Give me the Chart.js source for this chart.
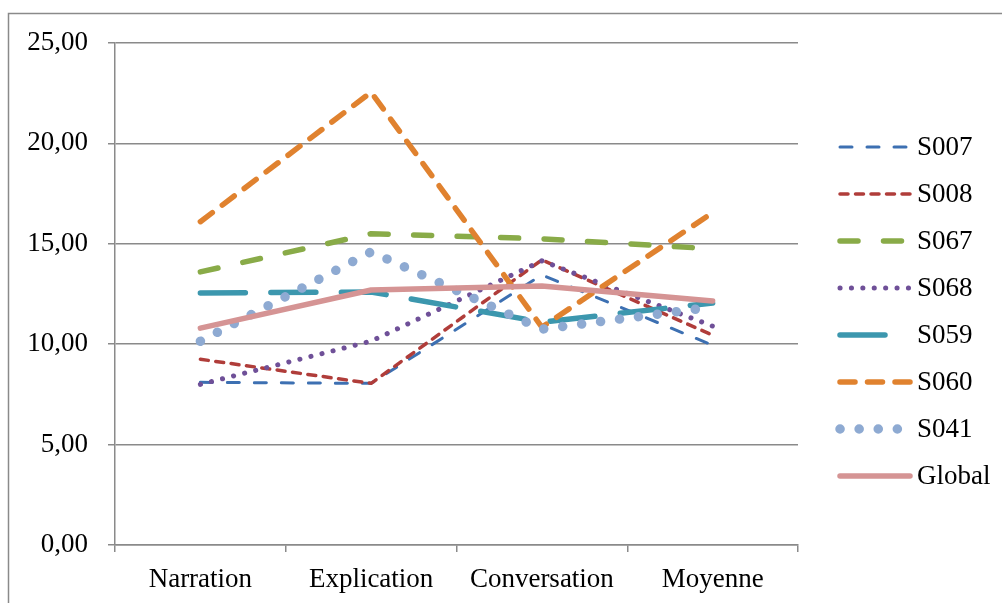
<!DOCTYPE html>
<html>
<head>
<meta charset="utf-8">
<script src="https://cdn.jsdelivr.net/npm/chart.js@4"></script>
<style>
  html, body { margin: 0; padding: 0; background: #fff; }
  #wrap { width: 1002px; height: 603px; }
</style>
</head>
<body>
<div id="wrap"><canvas id="lineChart" width="1002" height="603"></canvas></div>
<script>
// catégories et valeurs
const categories = ['Narration', 'Explication', 'Conversation', 'Moyenne'];
const seriesNames = ['S007', 'S008', 'S067', 'S068', 'S059', 'S060', 'S041', 'Global'];
const s007 = [8.1, 8.05, 13.45, 9.95];
const s008 = [9.25, 8.05, 14.2, 10.45];
const s067 = [13.6, 15.5, 15.25, 14.75];
const s068 = [8.0, 10.15, 14.15, 10.9];
const s059 = [12.55, 12.6, 11.1, 12.05];
const s060 = [16.1, 22.55, 10.85, 16.55];
const s041 = [10.15, 14.6, 10.75, 11.85];
const global = [10.8, 12.7, 12.9, 12.15];
const yTicks = [0, 5, 10, 15, 20, 25];

const FONT = 'Liberation Serif';
const GRID = '#8a8a8a';

// style de chaque série (couleur, épaisseur, tirets)
function serie(label, data, color, width, dash, order) {
    return {
        label: label,
        data: data,
        borderColor: color,
        backgroundColor: color,
        borderWidth: width,
        borderDash: dash,
        borderCapStyle: 'round',
        borderJoinStyle: 'round',
        pointRadius: 0,
        pointHoverRadius: 0,
        fill: false,
        tension: 0,
        order: order
    };
}

const datasets = [
    serie(seriesNames[0], s007, '#3d70b2', 3, [12, 15], 8),
    serie(seriesNames[1], s008, '#b03d3a', 3.5, [8, 7.5], 7),
    serie(seriesNames[2], s067, '#89ab48', 5.5, [18, 25.5], 6),
    serie(seriesNames[3], s068, '#6f5098', 5, [0.1, 11.3], 5),
    serie(seriesNames[4], s059, '#3c97ae', 5.5, [45, 25.5], 4),
    serie(seriesNames[5], s060, '#e0822f', 5.5, [15, 12.5], 3),
    serie(seriesNames[6], s041, '#8eaad2', 9.5, [0.1, 19], 2),
    serie(seriesNames[7], global, '#d59494', 5.5, [], 1)
];

// cadre extérieur (coupé à droite et en bas comme sur l'original)
const framePlugin = {
    id: 'frame',
    beforeDraw(chart) {
        const ctx = chart.ctx;
        ctx.save();
        ctx.fillStyle = '#fff';
        ctx.fillRect(0, 0, chart.width, chart.height);
        ctx.strokeStyle = GRID;
        ctx.lineWidth = 1.5;
        ctx.strokeRect(8.5, 13.5, 1200, 800);
        ctx.restore();
    }
};

// légende à droite, dessinée à la main pour garder les positions
const legendPlugin = {
    id: 'sideLegend',
    afterDraw(chart) {
        const ctx = chart.ctx;
        const x0 = 840, x1 = 910, top = 147, step = 47;
        ctx.save();
        chart.data.datasets.forEach((ds, i) => {
            const y = top + i * step;
            ctx.beginPath();
            ctx.strokeStyle = ds.borderColor;
            ctx.lineWidth = ds.borderWidth;
            ctx.lineCap = 'round';
            ctx.setLineDash(ds.borderDash || []);
            ctx.moveTo(x0, y);
            ctx.lineTo(x1, y);
            ctx.stroke();
            ctx.setLineDash([]);
            ctx.fillStyle = '#000';
            ctx.font = '27px "' + FONT + '"';
            ctx.textBaseline = 'middle';
            ctx.textAlign = 'left';
            ctx.fillText(ds.label, 917, y + 1);
        });
        ctx.restore();
    }
};

const ctx = document.getElementById('lineChart').getContext('2d');
const chart = new Chart(ctx, {
    type: 'line',
    data: {
        labels: categories,
        datasets: datasets
    },
    options: {
        responsive: false,
        animation: false,
        events: [],
        layout: {
            padding: { left: 0, top: 43, right: 204, bottom: 0 }
        },
        plugins: {
            legend: { display: false },
            tooltip: { enabled: false }
        },
        scales: {
            x: {
                offset: true,
                grid: {
                    display: true,
                    drawOnChartArea: false,
                    drawTicks: true,
                    tickLength: 7,
                    offset: true,
                    color: GRID,
                    lineWidth: 1.5
                },
                border: { display: true, color: GRID, width: 1.5 },
                ticks: {
                    color: '#000',
                    padding: 12,
                    maxRotation: 0,
                    autoSkip: false,
                    font: { family: FONT, size: 27 }
                },
                afterFit(scale) { scale.height = 58; }
            },
            y: {
                min: 0,
                max: 25,
                afterBuildTicks(scale) {
                    scale.ticks = yTicks.map(v => ({ value: v }));
                },
                grid: {
                    color: GRID,
                    lineWidth: 1.5,
                    drawTicks: true,
                    tickLength: 7
                },
                border: { display: true, color: GRID, width: 1.5 },
                ticks: {
                    color: '#000',
                    padding: 20,
                    font: { family: FONT, size: 27 },
                    callback: (v) => Number(v).toFixed(2).replace('.', ',')
                },
                afterFit(scale) { scale.width = 115; }
            }
        }
    },
    plugins: [framePlugin, legendPlugin]
});
</script>
</body>
</html>
